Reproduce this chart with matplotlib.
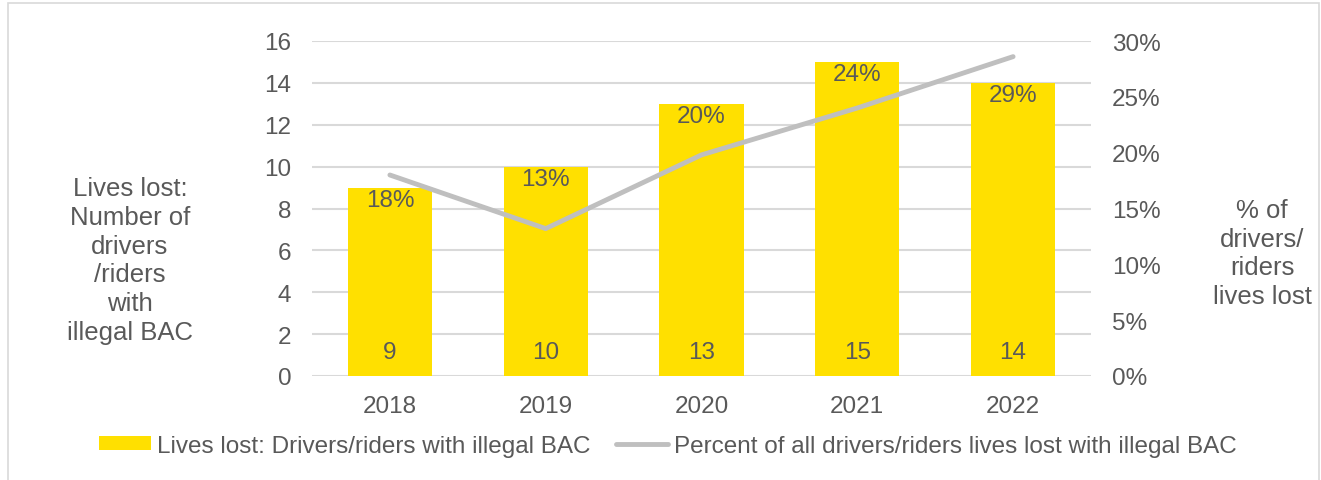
import matplotlib.pyplot as plt
from matplotlib.patches import Rectangle
from matplotlib.ticker import FuncFormatter

plt.rcParams['font.family'] = ['Liberation Sans', 'DejaVu Sans']

years = ['2018', '2019', '2020', '2021', '2022']
lives_lost = [9, 10, 13, 15, 14]
pct_lost = [18.0, 13.2, 19.8, 24.0, 28.6]

txt = '#595959'
yellow = '#FFE000'
grey_line = '#BFBFBF'
grid_c = '#D9D9D9'
fs = 17.5

fig = plt.figure(figsize=(13.21, 4.81), dpi=100)
ax = fig.add_axes([312 / 1321, 1 - 377 / 481, 779 / 1321, 335 / 481])
ax2 = ax.twinx()

x = list(range(len(years)))
bars = ax.bar(x, lives_lost, width=0.54, color=yellow, zorder=2,
              label='Lives lost: Drivers/riders with illegal BAC')
ax.set_xlim(-0.5, len(years) - 0.5)
ax.set_ylim(0, 16)
ax.set_yticks(range(0, 17, 2))
ax.yaxis.grid(True, color=grid_c, lw=1.5, zorder=0)
ax.set_axisbelow(True)
ax.set_xticks(x)
ax.set_xticklabels(years)

line, = ax2.plot(x, pct_lost, color=grey_line, lw=3.5, zorder=3,
                 solid_capstyle='round',
                 label='Percent of all drivers/riders lives lost with illegal BAC')
ax2.set_ylim(0, 30)
ax2.set_yticks(range(0, 31, 5))
ax2.yaxis.set_major_formatter(FuncFormatter(lambda v, p: f'{int(v)}%'))

for a in (ax, ax2):
    for s in a.spines.values():
        s.set_visible(False)
    a.tick_params(length=0, labelsize=fs, colors=txt, pad=15)
ax.tick_params(axis='x', pad=14)

# bar value labels near the base, percent labels near the bar tops
for xi, v, p in zip(x, lives_lost, pct_lost):
    ax.annotate(str(v), (xi, 0), xytext=(0, 17), textcoords='offset points',
                ha='center', va='center', fontsize=fs, color=txt, zorder=4)
    ax.annotate(f'{p:.0f}%', (xi, v), xytext=(0, -9), textcoords='offset points',
                ha='center', va='center', fontsize=fs, color=txt, zorder=4)

fig.text(130 / 1321, 1 - 261 / 481,
         'Lives lost:\nNumber of\ndrivers\n/riders\nwith\nillegal BAC',
         ha='center', va='center', fontsize=18.5, color=txt, linespacing=1.25)
fig.text(1262 / 1321, 1 - 254 / 481,
         '% of\ndrivers/\nriders\nlives lost',
         ha='center', va='center', fontsize=18.5, color=txt, linespacing=1.25)

fig.legend([bars, line],
           [bars.get_label(), line.get_label()],
           loc='center', bbox_to_anchor=(668 / 1321, 1 - 447 / 481),
           ncol=2, frameon=False, fontsize=fs, labelcolor=txt,
           handlelength=2.15, handleheight=0.5, handletextpad=0.25,
           columnspacing=1.05)

fig.patches.append(Rectangle((8 / 1321, -0.1), 1311 / 1321, 1.1 - 4 / 481,
                             transform=fig.transFigure, fill=False,
                             edgecolor=grid_c, lw=1.2))

fig.savefig('out.png', dpi=100)
